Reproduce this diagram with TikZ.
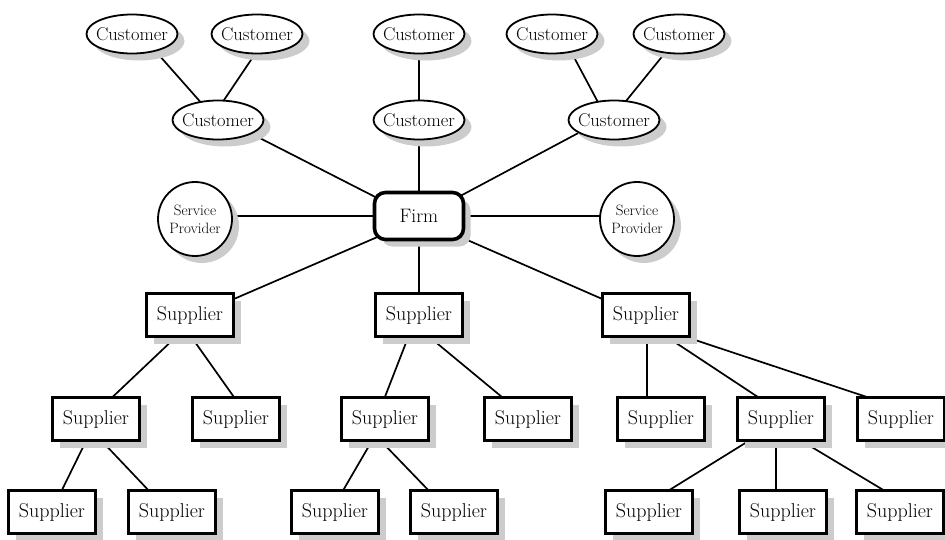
\documentclass[tikz,border=0pt]{standalone}
\usepackage{fontspec}
\usetikzlibrary{shapes.geometric,shadows,calc}
\pgfdeclarelayer{bg}
\pgfsetlayers{bg,main}
\begin{document}
\begin{tikzpicture}[x=1pt,y=-1pt,
  shad/.style={drop shadow={shadow xshift=7pt,shadow yshift=-7pt,fill=black!20,opacity=1}},
  cust/.style={ellipse,draw,line width=1.8pt,fill=white,minimum width=91pt,minimum height=39pt,inner xsep=-4pt,inner ysep=0pt,shad,font=\fontsize{18.5}{20}\selectfont},
  sup/.style={rectangle,draw,line width=2.4pt,fill=white,minimum width=87pt,minimum height=43pt,inner sep=0pt,shad,font=\fontsize{20}{22}\selectfont},
  firmbox/.style={rectangle,rounded corners=11pt,draw,line width=3.6pt,fill=white,minimum width=89pt,minimum height=47pt,inner sep=0pt,shad,font=\fontsize{19.5}{21}\selectfont},
  sprov/.style={circle,draw,line width=1.8pt,fill=white,minimum size=74pt,inner sep=0pt,align=center,shad,font=\fontsize{15}{18}\selectfont},
  link/.style={line width=1.7pt}]
\useasboundingbox (0,0) rectangle (945,540);
% customers
\node[cust] (C1) at (132,34) {Customer};
\node[cust] (C2) at (257,34) {Customer};
\node[cust] (C3) at (419,34) {Customer};
\node[cust] (C4) at (552,34) {Customer};
\node[cust] (C5) at (679,34) {Customer};
\node[cust] (C6) at (218,120) {Customer};
\node[cust] (C7) at (419,120) {Customer};
\node[cust] (C8) at (614,120) {Customer};
% firm
\node[firmbox] (F) at (419,216) {Firm};
\node[sprov] (SPL) at (195,219) {Service\\Provider};
\node[sprov] (SPR) at (637,219) {Service\\Provider};
% suppliers
\node[sup] (S1) at (190,315) {Supplier};
\node[sup] (S2) at (419,315) {Supplier};
\node[sup] (S3) at (646,315) {Supplier};
\node[sup] (S4) at (96,419) {Supplier};
\node[sup] (S5) at (236,419) {Supplier};
\node[sup] (S6) at (385,419) {Supplier};
\node[sup] (S7) at (528,419) {Supplier};
\node[sup] (S8) at (661,419) {Supplier};
\node[sup] (S9) at (781,419) {Supplier};
\node[sup] (S10) at (901,419) {Supplier};
\node[sup] (S11) at (52,512) {Supplier};
\node[sup] (S12) at (172,512) {Supplier};
\node[sup] (S13) at (335,512) {Supplier};
\node[sup] (S14) at (454,512) {Supplier};
\node[sup] (S15) at (649,512) {Supplier};
\node[sup] (S16) at (783,512) {Supplier};
\node[sup] (S17) at (900,512) {Supplier};
\begin{pgfonlayer}{bg}
\draw[link] ($(C1)+(26,20)$) -- ($(C6)+(-14,-14)$);
\draw[link] ($(C2)+(-2,20)$) -- ($(C6)+(2,-14)$);
\draw[link] (C3) -- (C7);
\draw[link] ($(C4)+(16,12)$) -- ($(C8)+(-14,-14)$);
\draw[link] ($(C5)+(-10,14)$) -- ($(C8)+(8,-14)$);
\draw[link] ($(C6)+(26,10)$) -- ($(F)+(-30,-12)$);
\draw[link] (C7) -- (F);
\draw[link] ($(C8)+(-30,10)$) -- ($(F)+(30,-14)$);
\draw[link] (SPL |- F) -- (F);
\draw[link] (SPR |- F) -- (F);
\draw[link] ($(F)+(-30,16)$) -- ($(S1)+(30,-10)$);
\draw[link] (F) -- (S2);
\draw[link] ($(F)+(30,16)$) -- ($(S3)+(-30,-10)$);
\draw[link] ($(S1)+(-12,20)$) -- ($(S4)+(6,-12)$);
\draw[link] ($(S1)+(0,20)$) -- ($(S5)+(5,-12)$);
\draw[link] ($(S4)+(-8,18)$) -- ($(S11)+(8,-18)$);
\draw[link] ($(S4)+(2,18)$) -- ($(S12)+(-20,-18)$);
\draw[link] ($(S2)+(-10,20)$) -- ($(S6)+(-4,-12)$);
\draw[link] ($(S2)+(8,20)$) -- ($(S7)+(-14,-12)$);
\draw[link] ($(S6)+(-12,20)$) -- ($(S13)+(6,-18)$);
\draw[link] ($(S6)+(-6,20)$) -- ($(S14)+(-22,-18)$);
\draw[link] ($(S3)+(1,0)$) -- ($(S8)+(-14,0)$);
\draw[link] ($(S3)+(18,20)$) -- ($(S9)+(-8,-12)$);
\draw[link] ($(S3)+(34,20)$) -- ($(S10)+(-4,-12)$);
\draw[link] ($(S9)+(-26,18)$) -- ($(S15)+(14,-18)$);
\draw[link] ($(S9)+(-5,18)$) -- ($(S16)+(-7,-18)$);
\draw[link] ($(S9)+(14,18)$) -- ($(S17)+(-10,-18)$);
\end{pgfonlayer}
\end{tikzpicture}
\end{document}
